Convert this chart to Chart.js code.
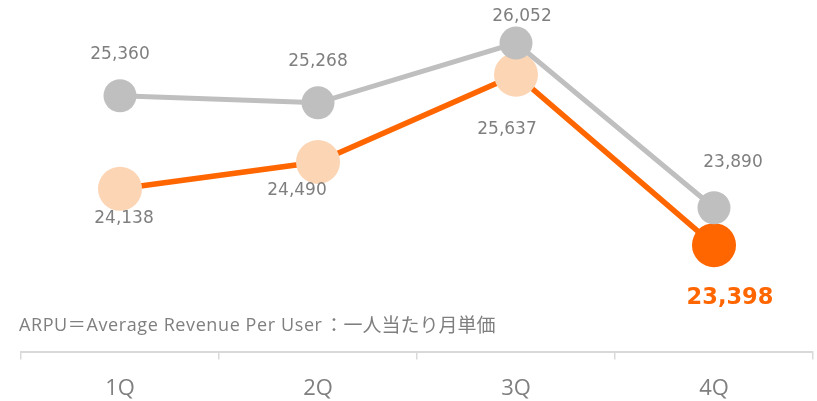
<!DOCTYPE html>
<html>
<head>
<meta charset="utf-8">
<script src="https://cdn.jsdelivr.net/npm/chart.js@4/dist/chart.umd.min.js"></script>
<style>
  html, body { margin: 0; padding: 0; background: #fff; }
  canvas { display: block; }
</style>
</head>
<body>
<canvas id="c" width="817" height="401"></canvas>
<script>
  // --- data ------------------------------------------------------------------
  var quarters = ["1Q", "2Q", "3Q", "4Q"];
  var prevYear = [25360, 25268, 26052, 23890];   // grey series
  var thisYear = [24138, 24490, 25637, 23398];   // orange series
  var note = ["ARPU＝Average Revenue Per User", "：一人当たり月単価"];

  // --- styling ---------------------------------------------------------------
  var GREY = "#bfbfbf", ORANGE = "#ff6600", PEACH = "#fcd5b5", TEXT = "#7f7f7f";
  // label offsets from each point (px), hand-placed like the original
  var greyOff = [[0, -41], [0, -41], [6, -27], [19, -45]];
  var orangeOff = [[4, 30], [-21, 29], [-9, 55], [16, 53]];

  function fmt(v) { return v.toLocaleString("en-US"); }

  var pointLabels = {
    id: "pointLabels",
    afterDatasetsDraw: function (chart) {
      var ctx = chart.ctx;
      ctx.save();
      ctx.textAlign = "center";
      ctx.textBaseline = "middle";
      chart.data.datasets.forEach(function (ds, di) {
        var meta = chart.getDatasetMeta(di);
        var off = ds.labelOffsets;
        meta.data.forEach(function (pt, i) {
          var last = di === 1 && i === ds.data.length - 1;
          ctx.font = last ? "bold 22.5px 'DejaVu Sans'" : "17px 'DejaVu Sans'";
          ctx.fillStyle = last ? ORANGE : TEXT;
          ctx.fillText(fmt(ds.data[i]), pt.x + off[i][0], pt.y + off[i][1]);
        });
      });
      ctx.restore();
    }
  };

  var footNote = {
    id: "footNote",
    afterDraw: function (chart) {
      var ctx = chart.ctx;
      ctx.save();
      ctx.fillStyle = TEXT;
      ctx.textBaseline = "alphabetic";
      ctx.font = "18px 'Open Sans', 'Noto Sans CJK JP'";
      ctx.letterSpacing = "0.6px";
      var x = 19;
      ctx.fillText(note[0], x, 331);
      x += ctx.measureText(note[0]).width + 2;
      ctx.letterSpacing = "0px";
      ctx.font = "19px 'Noto Sans CJK JP'";
      ctx.fillText(note[1], x, 332);
      ctx.restore();
    }
  };

  new Chart(document.getElementById("c").getContext("2d"), {
    type: "line",
    data: {
      labels: quarters,
      datasets: [
        { label: "prev", data: prevYear, borderColor: GREY, borderWidth: 5,
          pointRadius: 16.5, pointBackgroundColor: GREY, pointBorderWidth: 0,
          tension: 0, clip: false, order: 0, labelOffsets: greyOff },
        { label: "this", data: thisYear, borderColor: ORANGE, borderWidth: 5.5,
          pointRadius: 22, pointBorderWidth: 0,
          pointBackgroundColor: [PEACH, PEACH, PEACH, ORANGE],
          tension: 0, clip: false, order: 1, labelOffsets: orangeOff }
      ]
    },
    options: {
      responsive: false,
      animation: false,
      layout: { autoPadding: false,
        padding: { left: 21, right: 4, top: 9, bottom: -17 } },
      plugins: { legend: { display: false }, tooltip: { enabled: false } },
      scales: {
        x: {
          offset: true,
          grid: { offset: true, drawOnChartArea: false, tickLength: 8,
            color: "#d9d9d9", lineWidth: 1.5 },
          border: { display: true, color: "#d9d9d9", width: 2 },
          ticks: { color: TEXT, padding: 16,
            font: { family: "'Open Sans'", size: 22 } }
        },
        y: { display: false, min: 22000, max: 26500 }
      }
    },
    plugins: [pointLabels, footNote]
  });
</script>
</body>
</html>
